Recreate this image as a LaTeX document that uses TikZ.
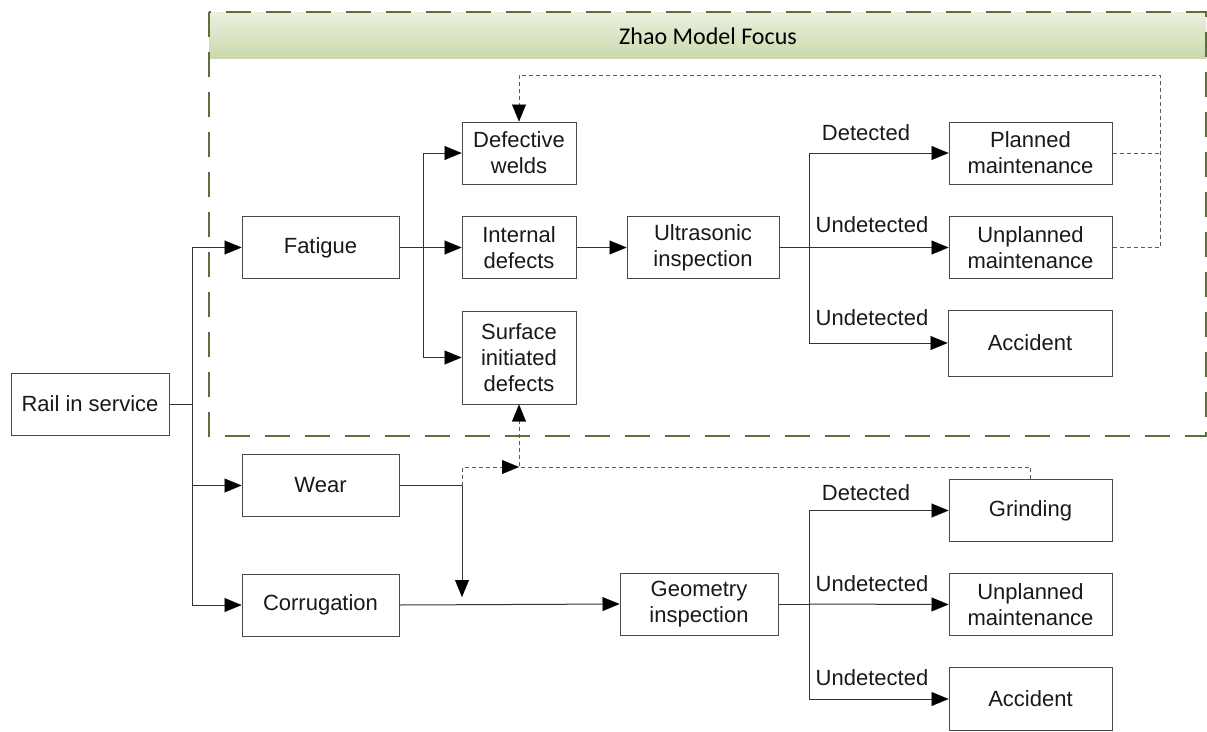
\documentclass[tikz,border=0pt]{standalone}
\usepackage{fontspec}
\setmainfont{Liberation Sans}
\newfontfamily\hdrfont{Carlito}
\usetikzlibrary{arrows.meta}
\definecolor{linec}{HTML}{333333}
\definecolor{boxc}{HTML}{4A4A4A}
\definecolor{zone}{HTML}{5F6F3C}
\definecolor{bandtop}{HTML}{EAF0DF}
\definecolor{bandbot}{HTML}{CADAAC}
\definecolor{fbc}{HTML}{5A5A5A}
\begin{document}
\begin{tikzpicture}[x=1pt,y=-1pt,
  every node/.style={font=\fontsize{22}{26}\selectfont, text=black!90},
  box/.style={draw=boxc, line width=1pt, inner sep=0pt, align=center,
              minimum width=157pt, minimum height=62pt},
  conn/.style={draw=linec, line width=1pt},
  tip/.style={-{Triangle[length=17pt,width=14pt,color=black,fill=black,line width=0.1pt]}},
  arr/.style={conn, tip},
  fb/.style={draw=fbc, line width=1pt, dash pattern=on 4pt off 3pt},
  fbarr/.style={fb, tip},
  lbl/.style={inner sep=0pt}]
\useasboundingbox (0,0) rectangle (1207,731);

% focus zone with its title band
\shade[top color=bandtop, bottom color=bandbot] (209,12) rectangle (1206,58);
\node[font=\hdrfont\fontsize{24}{27}\selectfont, text=black] (title) at (708,36) {Zhao Model Focus};
\draw[zone, line width=1.5pt, dash pattern=on 25pt off 15pt] (209,12) rectangle (1206,436);

% boxes
\node[box, minimum width=158pt] (rail) at (90,404) {Rail in service};
\node[box] (fat) at (320.5,247.5) {Fatigue};
\node[box] (wear) at (320.5,485.5) {Wear};
\node[box] (corr) at (320.5,605) {Corrugation};
\node[box, minimum width=114pt] (dw) at (519,153) {Defective\\welds};
\node[box, minimum width=114pt] (idf) at (519,247.5) {Internal\\defects};
\node[box, minimum width=114pt, minimum height=93pt] (sid) at (519,357.5) {Surface\\initiated\\defects};
\node[box, minimum width=152pt] (ui) at (703,247.5) {Ultrasonic\\inspection};
\node[box, minimum width=158pt] (gi) at (699,604) {Geometry\\inspection};
\node[box, minimum width=163pt] (pm) at (1030.5,153) {Planned\\maintenance};
\node[box, minimum width=163pt] (um) at (1030.5,247.5) {Unplanned\\maintenance};
\node[box, minimum width=164pt, minimum height=66pt] (acc) at (1030,343) {Accident};
\node[box, minimum width=163pt] (gr) at (1030.5,510.5) {Grinding};
\node[box, minimum width=163pt] (um2) at (1030.5,604.5) {Unplanned\\maintenance};
\node[box, minimum width=163pt, minimum height=63pt] (acc2) at (1030.5,699) {Accident};

% branch labels
\node[lbl] (d1) at (866,133) {Detected};
\node[lbl] (u1) at (872,225) {Undetected};
\node[lbl] (u2) at (872,318) {Undetected};
\node[lbl] (d2) at (866,493) {Detected};
\node[lbl] (u3) at (872,584) {Undetected};
\node[lbl] (u4) at (872,678) {Undetected};

% junction points
\coordinate (rj) at (192,404);
\coordinate (fj) at (423,247.5);
\coordinate (uj) at (809,247.5);
\coordinate (gj) at (809,604);
\coordinate (wj) at (462,485.5);
\coordinate (wd) at (462,597);
\coordinate (sj) at (519,467);
\coordinate (fbx) at (1160,75);

% rail in service branches
\draw[conn] (rail.east) -- (rj);
\draw[arr] (rj) |- (fat.west);
\draw[arr] (rj) |- (wear.west);
\draw[arr] (rj) |- (corr.west);

% fatigue branches
\draw[arr] (fat.east) -- (idf.west);
\draw[arr] (fj) |- (dw.west);
\draw[arr] (fj) |- (sid.west);
\draw[arr] (idf.east) -- (ui.west);

% ultrasonic outcomes
\draw[conn] (ui.east) -- (uj);
\draw[arr] (uj) |- (pm.west);
\draw[arr] (uj) -- (um.west);
\draw[arr] (uj) |- (acc.west);

% wear and corrugation
\draw[conn] (wear.east) -- (wj);
\draw[arr] (wj) -- (wd);
\draw[arr] (corr.east) -- (gi.west);

% geometry outcomes
\draw[conn] (gi.east) -- (gj);
\draw[arr] (gj) |- (gr.west);
\draw[arr] (gj) -- (um2.west);
\draw[arr] (gj) |- (acc2.west);

% feedback loops
\draw[fb] (pm.east) -- (pm.east -| fbx);
\draw[fbarr] (um.east) -- (um.east -| fbx) -- (fbx) -| (dw.north);
\draw[fbarr] (wj) |- (sj);
\draw[fbarr] (gr.north) |- (sj) -- (sid.south);
\end{tikzpicture}
\end{document}
